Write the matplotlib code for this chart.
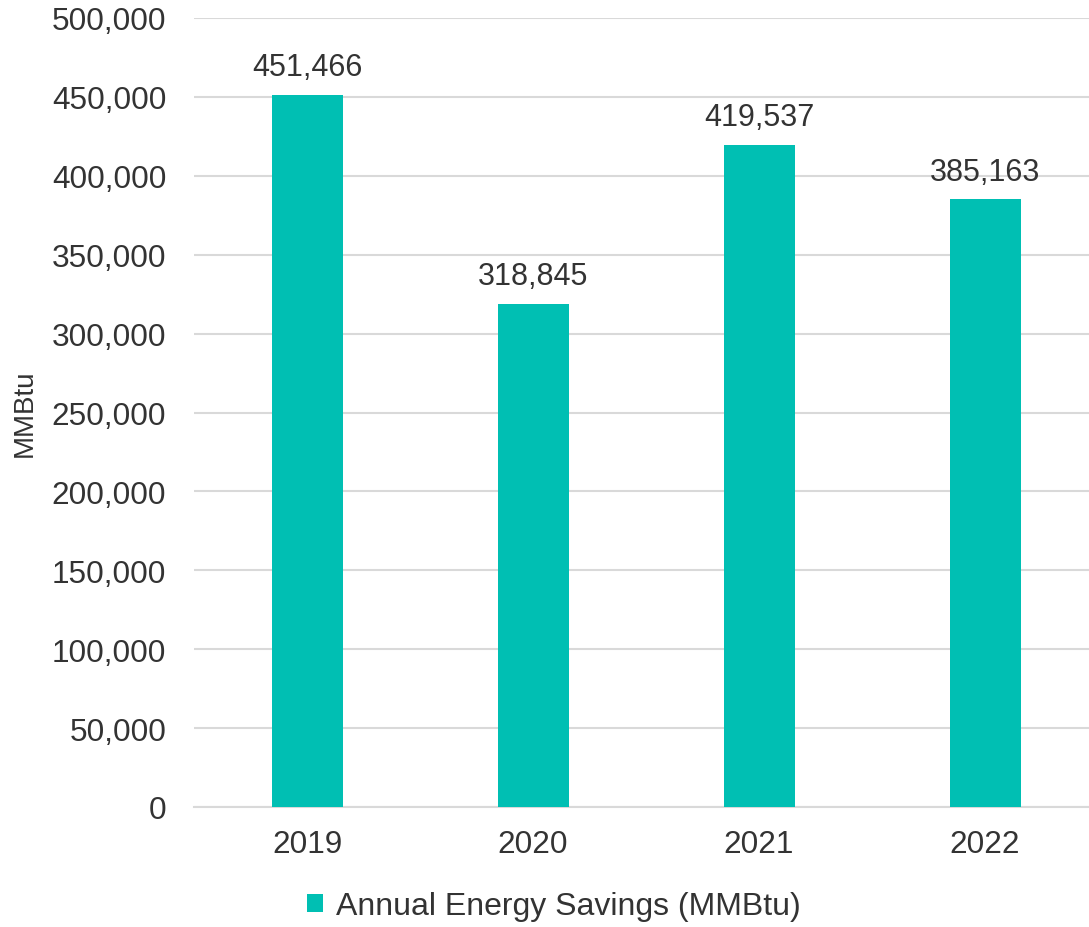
import matplotlib
matplotlib.use("Agg")
import matplotlib.pyplot as plt
from matplotlib.ticker import FuncFormatter, MultipleLocator

years = ["2019", "2020", "2021", "2022"]
savings = [451466, 318845, 419537, 385163]
series_name = "Annual Energy Savings (MMBtu)"
y_label = "MMBtu"

plt.rcParams['font.family'] = ['Liberation Sans', 'DejaVu Sans']
text_color = "#333333"
bar_color = "#00BFB3"

W, H = 1089, 928
fig = plt.figure(figsize=(W / 100, H / 100), dpi=100)
left, right = 194, 1089
bottom, top = 808, 19
ax = fig.add_axes([left / W, 1 - bottom / H, (right - left) / W, (bottom - top) / H])

x = list(range(len(years)))
bars = ax.bar(x, savings, width=71 / 226, color=bar_color, zorder=3, label=series_name)
ax.set_xlim(-0.5, -0.5 + (right - left) / 226)
ax.set_ylim(0, 500000)
ax.yaxis.set_major_locator(MultipleLocator(50000))
ax.yaxis.set_major_formatter(FuncFormatter(lambda v, p: f"{int(v):,}"))
ax.set_xticks(x)
ax.set_xticklabels(years)

ax.grid(axis="y", color="#d9d9d9", linewidth=1.5, zorder=0)
for s in ["top", "right", "left"]:
    ax.spines[s].set_visible(False)
ax.spines["bottom"].set_color("#d9d9d9")
ax.spines["bottom"].set_linewidth(1.5)
ax.tick_params(axis="both", length=0, labelsize=22.7, colors=text_color)
ax.tick_params(axis="y", pad=20)
ax.tick_params(axis="x", pad=16)

for xi, v in zip(x, savings):
    ax.annotate(f"{v:,}", (xi, v), xytext=(0, 9), textcoords="offset points",
                ha="center", va="bottom", fontsize=22, color=text_color)

ax.set_ylabel(y_label, fontsize=20, color=text_color, va="center")
ax.yaxis.set_label_coords(-(194 - 25) / (right - left), 0.5)

leg = fig.legend(handles=[bars], labels=[series_name], loc="center",
                 bbox_to_anchor=(554 / W, 1 - 907 / H), frameon=False,
                 fontsize=23, handlelength=0.5, handleheight=0.5, handletextpad=0.4)
for t in leg.get_texts():
    t.set_color(text_color)

fig.savefig("out.png", dpi=100)
